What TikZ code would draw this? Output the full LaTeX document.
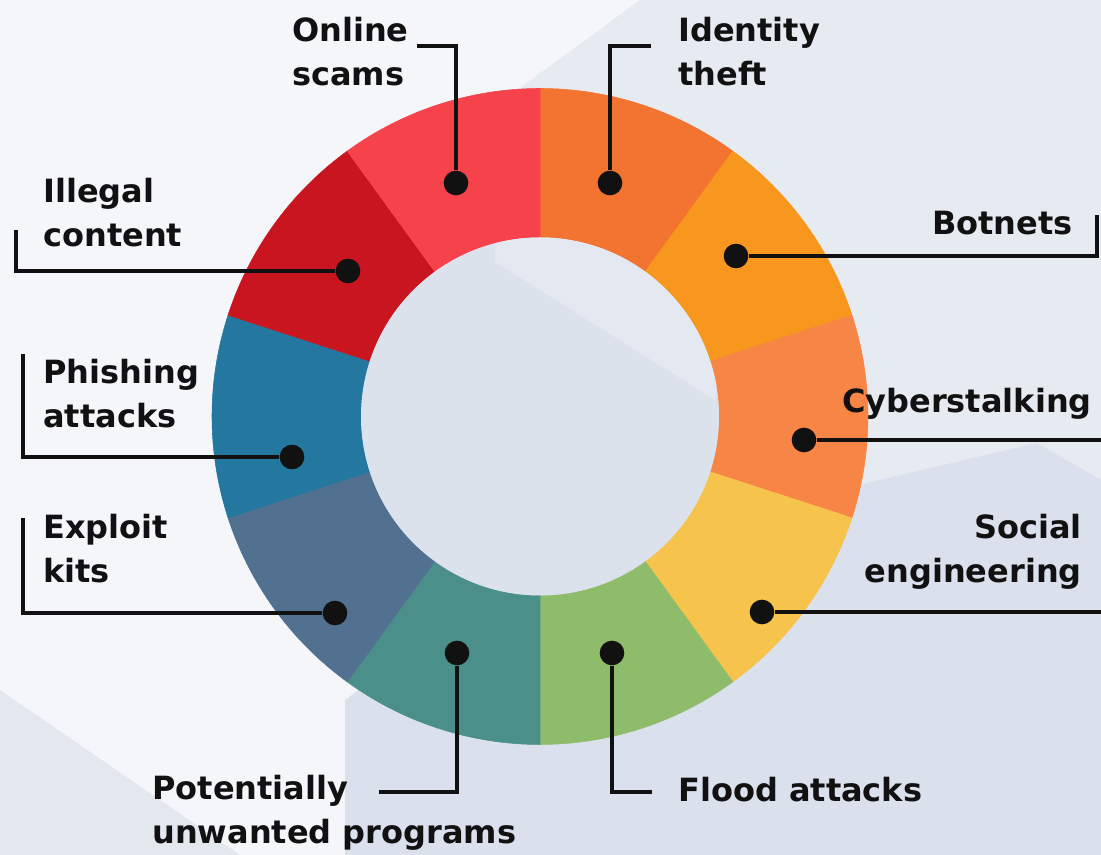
\documentclass[tikz,border=0pt]{standalone}
\usepackage{fontspec}
\setmainfont{DejaVu Sans}

\definecolor{bgbase}{HTML}{E6EBF2}
\definecolor{bglight}{HTML}{F4F6F9}
\definecolor{bgdark}{HTML}{DAE1EC}
\definecolor{bgcorner}{HTML}{E3E8EF}
\definecolor{holefill}{HTML}{DBE2EC}
\definecolor{holelight}{HTML}{E4E9F1}
\definecolor{scamsred}{HTML}{F5424B}
\definecolor{illegalred}{HTML}{C9151F}
\definecolor{identityorange}{HTML}{F27430}
\definecolor{botnetorange}{HTML}{F7971E}
\definecolor{stalkorange}{HTML}{F68546}
\definecolor{socialyellow}{HTML}{F6C34D}
\definecolor{floodgreen}{HTML}{8FBC6A}
\definecolor{pupteal}{HTML}{4A8F89}
\definecolor{exploitslate}{HTML}{52708F}
\definecolor{phishblue}{HTML}{24779E}
\definecolor{ink}{HTML}{111111}

\tikzset{
  leader/.style={line width=2.4pt, draw=ink},
  spot/.style={circle, fill=ink, inner sep=0pt, minimum size=18.5pt},
  lbl/.style={font=\bfseries\fontsize{24}{33}\selectfont, inner sep=0pt, text=ink},
  seg/.style={fill=#1, draw=#1, line width=0.4pt}
}

\begin{document}
\begin{tikzpicture}[x=0.75pt, y=0.75pt]

\useasboundingbox (0,0) rectangle (1101,855);
\fill[bgbase] (0,0) rectangle (1101,855);
\fill[bglight] (0,855) -- (640,855) -- (380,665) -- (715,455) -- (345,155) -- (345,0) -- (0,0) -- cycle;
\fill[bgcorner] (0,165) -- (240,0) -- (0,0) -- cycle;
\fill[bgdark] (345,155) -- (560,300) -- (1037,412) -- (1101,375) -- (1101,0) -- (345,0) -- cycle;

\coordinate (C) at (540,438.5);

\begin{scope}[shift={(C)}]
\fill[seg=identityorange] (90:246pt) arc[start angle=90, end angle=54, radius=246pt] -- (54:134.25pt) arc[start angle=54, end angle=90, radius=134.25pt] -- cycle;
\fill[seg=botnetorange] (54:246pt) arc[start angle=54, end angle=18, radius=246pt] -- (18:134.25pt) arc[start angle=18, end angle=54, radius=134.25pt] -- cycle;
\fill[seg=stalkorange] (18:246pt) arc[start angle=18, end angle=-18, radius=246pt] -- (-18:134.25pt) arc[start angle=-18, end angle=18, radius=134.25pt] -- cycle;
\fill[seg=socialyellow] (-18:246pt) arc[start angle=-18, end angle=-54, radius=246pt] -- (-54:134.25pt) arc[start angle=-54, end angle=-18, radius=134.25pt] -- cycle;
\fill[seg=floodgreen] (-54:246pt) arc[start angle=-54, end angle=-90, radius=246pt] -- (-90:134.25pt) arc[start angle=-90, end angle=-54, radius=134.25pt] -- cycle;
\fill[seg=pupteal] (-90:246pt) arc[start angle=-90, end angle=-126, radius=246pt] -- (-126:134.25pt) arc[start angle=-126, end angle=-90, radius=134.25pt] -- cycle;
\fill[seg=exploitslate] (-126:246pt) arc[start angle=-126, end angle=-162, radius=246pt] -- (-162:134.25pt) arc[start angle=-162, end angle=-126, radius=134.25pt] -- cycle;
\fill[seg=phishblue] (-162:246pt) arc[start angle=-162, end angle=-198, radius=246pt] -- (-198:134.25pt) arc[start angle=-198, end angle=-162, radius=134.25pt] -- cycle;
\fill[seg=illegalred] (162:246pt) arc[start angle=162, end angle=126, radius=246pt] -- (126:134.25pt) arc[start angle=126, end angle=162, radius=134.25pt] -- cycle;
\fill[seg=scamsred] (126:246pt) arc[start angle=126, end angle=90, radius=246pt] -- (90:134.25pt) arc[start angle=90, end angle=126, radius=134.25pt] -- cycle;
\begin{scope}
\clip (0,0) circle[radius=134.25pt];
\fill[holefill] (-200,-200) rectangle (200,200);
\fill[holelight] (-45,154.5) -- (175,16.5) -- (200,200) -- (-45,200) -- cycle;
\end{scope}
\end{scope}

\node[spot] (scamsdot) at (456,672) {};
\node[spot] (identitydot) at (610,672) {};
\node[spot] (illegaldot) at (348,584) {};
\node[spot] (botnetdot) at (736,599) {};
\node[spot] (phishdot) at (292,398) {};
\node[spot] (stalkdot) at (804,415) {};
\node[spot] (exploitdot) at (335,242) {};
\node[spot] (socialdot) at (762,243) {};
\node[spot] (pupdot) at (457,202) {};
\node[spot] (flooddot) at (612,202) {};

\coordinate (scamsend) at (417,809);
\coordinate (identityend) at (651,809);
\coordinate (illegalend) at (16,625);
\coordinate (botnetend) at (1097,640);
\coordinate (phishend) at (23,501);
\coordinate (stalkend) at (1101,415);
\coordinate (exploitend) at (23,337);
\coordinate (socialend) at (1101,243);
\coordinate (pupend) at (379,63);
\coordinate (floodend) at (652,63);

\draw[leader] (scamsdot) |- (scamsend);
\draw[leader] (identitydot) |- (identityend);
\draw[leader] (illegaldot) -| (illegalend);
\draw[leader] (botnetdot) -| (botnetend);
\draw[leader] (phishdot) -| (phishend);
\draw[leader] (stalkdot) -- (stalkend);
\draw[leader] (exploitdot) -| (exploitend);
\draw[leader] (socialdot) -- (socialend);
\draw[leader] (pupdot) |- (pupend);
\draw[leader] (flooddot) |- (floodend);

\node[lbl, anchor=base west, align=left] (scamslbl) at (292,769) {Online\\scams};
\node[lbl, anchor=base west, align=left] (identitylbl) at (678,769) {Identity\\theft};
\node[lbl, anchor=base west, align=left] (illegallbl) at (43,608) {Illegal\\content};
\node[lbl, anchor=base east, align=right] (botnetlbl) at (1073,620) {Botnets};
\node[lbl, anchor=base west, align=left] (phishlbl) at (43,427) {Phishing\\attacks};
\node[lbl, anchor=base east, align=right] (stalklbl) at (1092,442) {Cyberstalking};
\node[lbl, anchor=base west, align=left] (exploitlbl) at (43,272) {Exploit\\kits};
\node[lbl, anchor=base east, align=right] (sociallbl) at (1082,272) {Social\\engineering};
\node[lbl, anchor=base west, align=left] (puplbl) at (152,11) {Potentially\\unwanted programs};
\node[lbl, anchor=base west, align=left] (floodlbl) at (678,53) {Flood attacks};

\end{tikzpicture}
\end{document}
